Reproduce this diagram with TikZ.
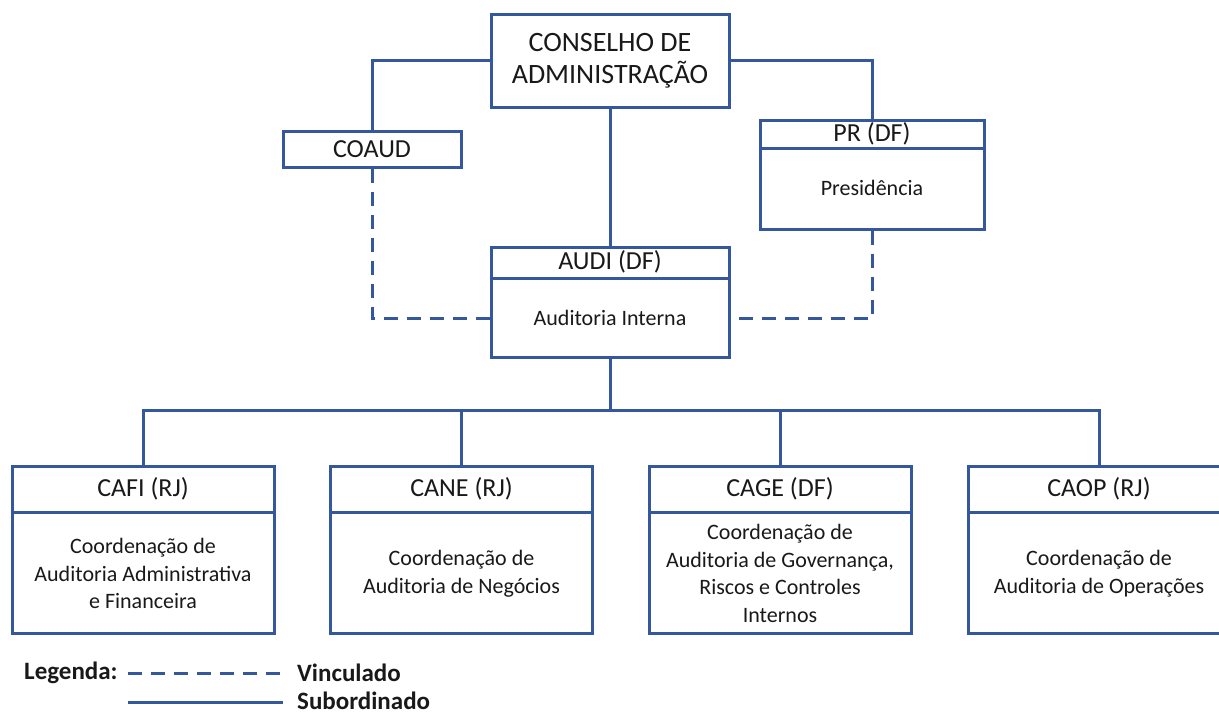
\documentclass[tikz,border=0pt]{standalone}
\usepackage{fontspec}
\setmainfont{Carlito}
\definecolor{ln}{RGB}{52,88,155}
\definecolor{tx}{RGB}{25,25,25}
\begin{document}
\begin{tikzpicture}[x=1pt,y=-1pt,
  box/.style={draw=ln,line width=3pt,fill=white,inner sep=0pt,align=center,text=tx},
  ttl/.style={inner sep=0pt,text=tx,font=\fontsize{26}{30}\selectfont},
  bod/.style={inner sep=0pt,text=tx,align=center,font=\fontsize{22}{27.5}\selectfont},
  conn/.style={draw=ln,line width=3pt},
  vinc/.style={draw=ln,line width=3pt,dash pattern=on 14pt off 9pt},
  leg/.style={inner sep=0pt,anchor=west,text=tx,font=\fontsize{25}{28}\selectfont\bfseries}]
\useasboundingbox (0,0) rectangle (1219,715);
\clip (0,0) rectangle (1219,715);
\fill[white] (0,0) rectangle (1219,715);

% top
\node[box,minimum width=238pt,minimum height=93pt,font=\fontsize{28}{32}\selectfont] (cons) at (610,60.5) {CONSELHO DE\\ADMINISTRAÇÃO};
\node[box,minimum width=178pt,minimum height=36pt,font=\fontsize{26}{30}\selectfont] (coaud) at (372,149) {COAUD};

% PR
\node[box,minimum width=224pt,minimum height=109pt] (pr) at (872,174.5) {};
\coordinate (prdiv) at (872,148);
\draw[conn] (pr.west |- prdiv) -- (pr.east |- prdiv);
\node[ttl] (prT) at (872,134) {PR (DF)};
\node[bod] (prB) at (872,188) {Presidência};

% AUDI
\node[box,minimum width=238pt,minimum height=110pt] (audi) at (610,302) {};
\coordinate (audidiv) at (610,278);
\draw[conn] (audi.west |- audidiv) -- (audi.east |- audidiv);
\node[ttl] (audiT) at (610,262) {AUDI (DF)};
\node[bod] (audiB) at (610,318) {Auditoria Interna};

% bottom boxes
\foreach \n/\x/\t/\b in {cafi/143/CAFI (RJ)/{Coordenação de\\Auditoria Administrativa\\e Financeira},
                         cane/461.5/CANE (RJ)/{Coordenação de\\Auditoria de Negócios},
                         cage/780/CAGE (DF)/{Coordenação de\\Auditoria de Governança,\\Riscos e Controles\\Internos},
                         caop/1099/CAOP (RJ)/{Coordenação de\\Auditoria de Operações}}{
  \node[box,minimum width=262pt,minimum height=167pt] (\n) at (\x,549.5) {};
  \coordinate (\n div) at (\x,512);
  \draw[conn] (\n.west |- \n div) -- (\n.east |- \n div);
  \node[ttl] (\n T) at (\x,489) {\t};
  \node[bod] (\n B) at (\x,573.5) {\b};
}

% connectors
\draw[conn] (cons.west) -| (coaud.north);
\draw[conn] (cons.east) -| (pr.north);
\draw[conn] (cons.south) -- (audi.north);
\draw[vinc] (coaud.south) |- (audi.west |- audiB);
\draw[vinc] (pr.south) |- (audi.east |- audiB);
\coordinate (bus) at (610,410);
\draw[conn] (audi.south) -- (bus);
\draw[conn] (cafi.north) |- (bus) -| (caop.north);
\draw[conn] (cane.north) -- (cane.north |- bus);
\draw[conn] (cage.north) -- (cage.north |- bus);

% legend
\node[leg] (legT) at (24,673) {Legenda:};
\node[leg] (vincT) at (297,673) {Vinculado};
\node[leg] (subT) at (297,701) {Subordinado};
\coordinate (l1a) at (128,673);
\coordinate (l2a) at (128,702);
\draw[vinc] (l1a) -- ([xshift=-12pt]vincT.west);
\draw[conn] (l2a) -- ([xshift=-14pt]subT.west |- l2a);
\end{tikzpicture}
\end{document}
